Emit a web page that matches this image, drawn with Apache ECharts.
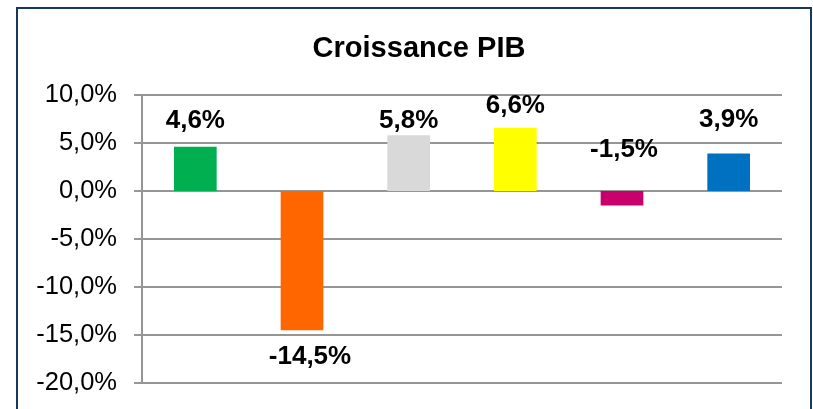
<!DOCTYPE html>
<html>
<head>
<meta charset="utf-8">
<script src="https://cdn.jsdelivr.net/npm/echarts@6/dist/echarts.min.js"></script>
<style>
    html, body {margin: 0; padding: 0; background: #fff;}
    #chart {width: 813px; height: 409px;}
</style>
</head>
<body>
<div id="chart"></div>
<script>
    // données
    var categories = ['A', 'B', 'C', 'D', 'E', 'F'];
    var growth = [4.6, -14.5, 5.8, 6.6, -1.5, 3.9];
    var barColors = ['#00B050', '#FF6600', '#D9D9D9', '#FFFF00', '#C9006B', '#0070C0'];
    var labelSide = ['top', 'bottom', 'top', 'top', 'top', 'top'];
    var labelGap = [13, 14, 1, 9, 28, 21];
    var labelShiftX = [0, 8, 0, 0, 2, 0];

    var font = '"Liberation Sans", Arial, sans-serif';

    function pct(v) {
        return v.toFixed(1).replace('.', ',') + '%';
    }

    var seriesData = [];
    for (var i = 0; i < growth.length; i++) {
        seriesData.push({
            value: growth[i],
            itemStyle: {color: barColors[i]},
            label: {position: labelSide[i], distance: labelGap[i], offset: [labelShiftX[i], 0]}
        });
    }

    var myChart = echarts.init(document.getElementById('chart'));
    myChart.setOption({
        animation: false,
        title: {
            text: 'Croissance PIB',
            left: 414,
            top: 29,
            textAlign: 'center',
            textStyle: {fontFamily: font, fontSize: 29, fontWeight: 'bold', color: '#000'}
        },
        graphic: [{
            type: 'rect',
            shape: {x: 17, y: 8, width: 794, height: 500},
            style: {fill: 'none', stroke: '#17375E', lineWidth: 2}
        }],
        grid: {left: 142, right: 31, top: 95, bottom: 26},
        xAxis: {
            type: 'category',
            data: categories,
            axisLine: {show: false},
            axisTick: {show: false},
            axisLabel: {show: false}
        },
        yAxis: {
            type: 'value',
            min: -20,
            max: 10,
            interval: 5,
            axisLine: {show: true, lineStyle: {color: '#969696', width: 2}},
            axisTick: {show: true, length: 8, lineStyle: {color: '#969696', width: 2}},
            splitLine: {lineStyle: {color: '#969696', width: 2}},
            axisLabel: {
                margin: 25,
                fontFamily: font,
                fontSize: 25.5,
                color: '#000',
                formatter: pct
            }
        },
        series: [{
            type: 'bar',
            data: seriesData,
            barWidth: '40%',
            label: {
                show: true,
                fontFamily: font,
                fontSize: 26,
                fontWeight: 'bold',
                color: '#000',
                formatter: function (p) { return pct(p.value); }
            }
        }]
    });
</script>
</body>
</html>
